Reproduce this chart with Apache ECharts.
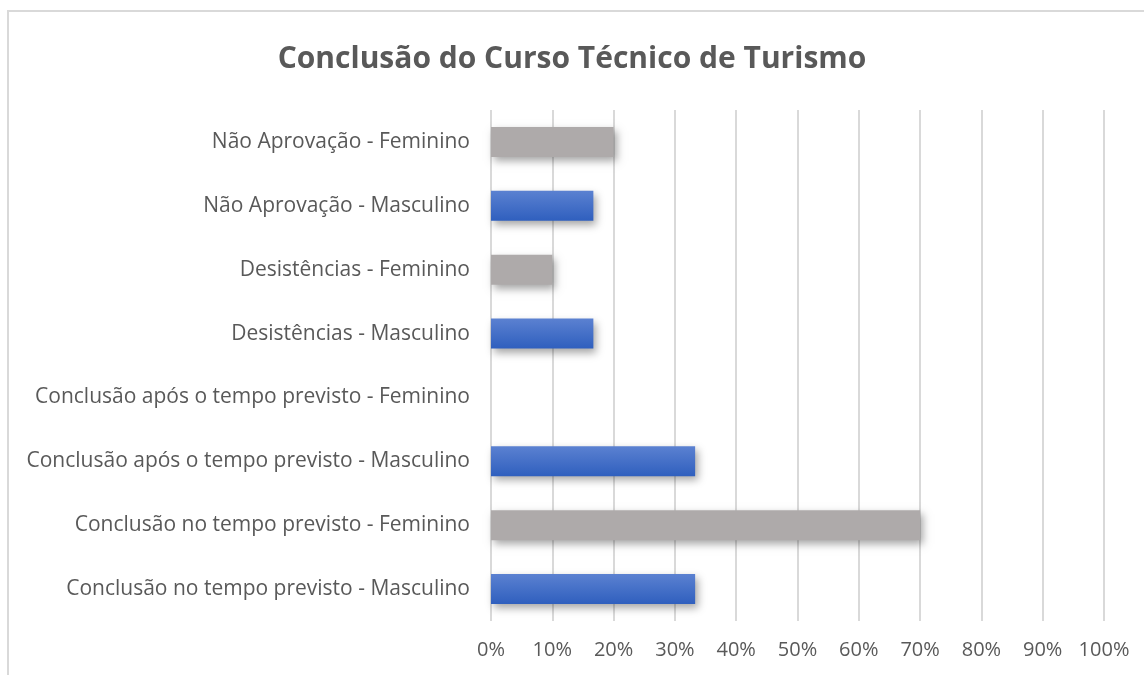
<!DOCTYPE html>
<html>
<head>
<meta charset="utf-8">
<script src="https://cdn.jsdelivr.net/npm/echarts@6/dist/echarts.min.js"></script>
<style>
html,body{margin:0;padding:0;background:#fff;}
#frame{position:absolute;left:7px;top:10px;width:1137px;height:665px;border-left:2px solid #d9d9d9;border-top:2px solid #d9d9d9;box-sizing:border-box;}
#c{position:absolute;left:0;top:0;width:1144px;height:675px;}
</style>
</head>
<body>
<div id="frame"></div>
<div id="c"></div>
<script>
const titleText = 'Conclusão do Curso Técnico de Turismo';
const categories = [
  'Conclusão no tempo previsto - Masculino',
  'Conclusão no tempo previsto - Feminino',
  'Conclusão após o tempo previsto - Masculino',
  'Conclusão após o tempo previsto - Feminino',
  'Desistências - Masculino',
  'Desistências - Feminino',
  'Não Aprovação - Masculino',
  'Não Aprovação - Feminino'
];
const values = [0.333, 0.70, 0.333, 0, 0.167, 0.10, 0.167, 0.20];
const groups = ['M','F','M','F','M','F','M','F'];

const blue = new echarts.graphic.LinearGradient(0,0,0,1,[
  {offset:0,color:'#5b81d1'},{offset:1,color:'#2f5fbe'}]);
const gray = '#aeaaaa';

const chart = echarts.init(document.getElementById('c'), null, {renderer:'canvas'});
chart.setOption({
  backgroundColor:'transparent',
  animation:false,
  title:{
    text:titleText, left:'center', top:39,
    textStyle:{fontFamily:'Open Sans', fontWeight:'bold', fontSize:30, color:'#595959'}
  },
  grid:{left:491, right:40, top:110, bottom:54, containLabel:false},
  xAxis:{
    type:'value', min:0, max:1, interval:0.1,
    axisLine:{show:false}, axisTick:{show:false},
    splitLine:{show:true, lineStyle:{color:'#d9d9d9', width:2}},
    axisLabel:{formatter:v=>Math.round(v*100)+'%', fontFamily:'Open Sans', fontSize:20, color:'#595959', margin:19}
  },
  yAxis:{
    type:'category', data:categories,
    axisLine:{show:false}, axisTick:{show:false},
    axisLabel:{fontFamily:'Open Sans', fontSize:21, color:'#595959', margin:21}
  },
  series:[{
    type:'bar',
    data:values.map((v,i)=>({value:v, itemStyle:{color: groups[i]==='M'?blue:gray}})),
    barCategoryGap:'53%',
    itemStyle:{shadowColor:'rgba(0,0,0,0.35)', shadowBlur:8, shadowOffsetX:3, shadowOffsetY:4}
  }]
});
</script>
</body>
</html>
